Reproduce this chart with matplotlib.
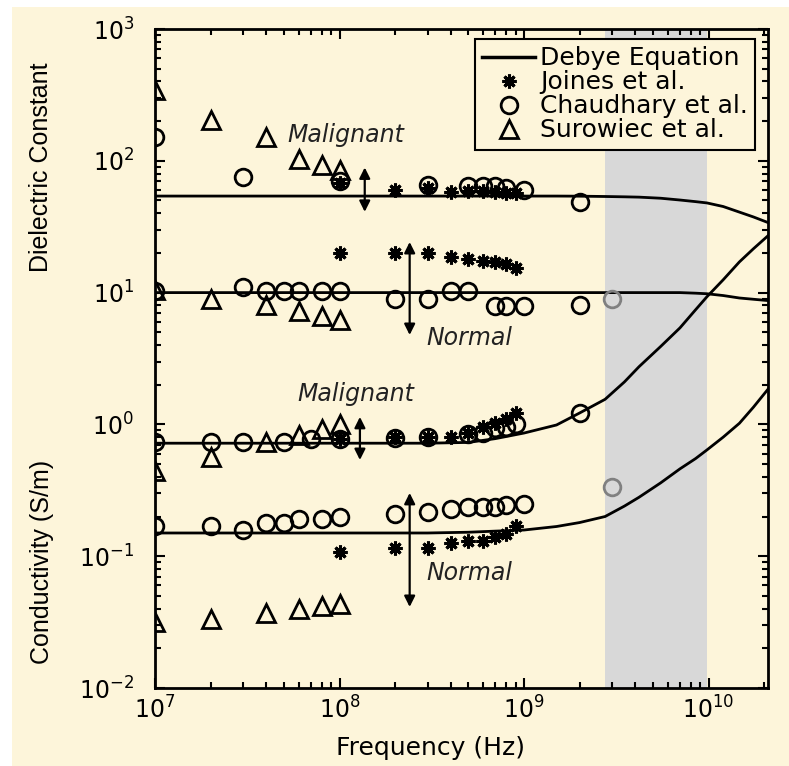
import matplotlib
matplotlib.use("Agg")
import matplotlib.pyplot as plt
from matplotlib.lines import Line2D
from matplotlib.patches import Rectangle
import numpy as np

# Debye equation curves
debye_f = [1e7, 1e8, 3e8, 5e8, 7e8, 1e9, 1.5e9, 2e9, 2.75e9, 3.5e9, 4.2e9, 5.5e9,
           7e9, 8.5e9, 9.8e9, 1.2e10, 1.47e10, 1.75e10, 2.1e10]
debye_eps_mal = [54, 54, 54, 54, 54, 54, 54, 53.9, 53.6, 53.3, 53, 52,
                 50.4, 49, 47.9, 45, 40.8, 37.5, 34]
debye_eps_nor = [10, 10, 10, 10, 10, 10, 10, 10, 10, 10, 10, 10,
                 10, 9.9, 9.8, 9.5, 9.1, 8.9, 8.7]
debye_sig_mal = [0.72, 0.72, 0.72, 0.73, 0.78, 0.86, 0.99, 1.22, 1.55, 2.1, 2.74, 3.9,
                 5.4, 7.4, 9.3, 12.5, 17.1, 21.5, 27]
debye_sig_nor = [0.15, 0.15, 0.15, 0.152, 0.155, 0.158, 0.168, 0.18, 0.2, 0.24, 0.28, 0.36,
                 0.46, 0.55, 0.64, 0.8, 1.02, 1.35, 1.85]

# Joines et al.
jo_f = [1e8, 2e8, 3e8, 4e8, 5e8, 6e8, 7e8, 8e8, 9e8]
jo_eps_mal = [68, 60, 62, 58, 59, 59, 58, 57, 57]
jo_eps_nor = [20, 20, 20, 18.5, 18, 17.5, 17, 16.5, 15.5]
jo_sig_mal = [0.78, 0.8, 0.8, 0.8, 0.86, 0.95, 1.02, 1.1, 1.22]
jo_sig_nor = [0.108, 0.116, 0.116, 0.125, 0.13, 0.13, 0.14, 0.147, 0.17]

# Chaudhary et al.
ch_eps_mal_f = [1e7, 3e7, 1e8, 3e8, 5e8, 6e8, 7e8, 8e8, 1e9, 2e9]
ch_eps_mal = [151, 75, 70, 65, 64, 64, 64, 62, 60, 49]
ch_eps_nor_f = [1e7, 3e7, 4e7, 5e7, 6e7, 8e7, 1e8, 2e8, 3e8, 4e8, 5e8, 7e8, 8e8, 1e9, 2e9, 3e9]
ch_eps_nor = [10.3, 11, 10.2, 10.2, 10.2, 10.2, 10.2, 8.9, 8.9, 10.2, 10.2, 7.9, 7.9, 7.9, 8.0, 8.9]
ch_sig_mal_f = [1e7, 2e7, 3e7, 5e7, 7e7, 1e8, 2e8, 3e8, 5e8, 6e8, 7e8, 8e8, 9e8, 2e9]
ch_sig_mal = [0.73, 0.73, 0.74, 0.73, 0.77, 0.77, 0.79, 0.8, 0.84, 0.86, 0.94, 0.95, 1.0, 1.23]
ch_sig_nor_f = [1e7, 2e7, 3e7, 4e7, 5e7, 6e7, 8e7, 1e8, 2e8, 3e8, 4e8, 5e8, 6e8, 7e8, 8e8, 1e9, 3e9]
ch_sig_nor = [0.17, 0.17, 0.158, 0.18, 0.178, 0.19, 0.19, 0.2, 0.21, 0.215, 0.23, 0.235, 0.235, 0.235, 0.245, 0.25, 0.337]

# Surowiec et al.
su_f = [1e7, 2e7, 4e7, 6e7, 8e7, 1e8]
su_eps_mal = [344, 204, 151, 103, 93, 85]
su_eps_nor = [10.5, 9.0, 8.0, 7.2, 6.6, 6.2]
su_sig_mal = [0.44, 0.57, 0.74, 0.83, 0.93, 1.0]
su_sig_nor = [0.0317, 0.0336, 0.037, 0.0397, 0.042, 0.0435]

band = (2.75e9, 9.8e9)
cream = "#FDF5DA"

fig = plt.figure(figsize=(7.89, 7.66), dpi=100, facecolor="white")
fig.patches.append(Rectangle((12 / 789, 0), 1, 1 - 7 / 766, transform=fig.transFigure,
                             facecolor=cream, edgecolor="none", zorder=-10))
ax = fig.add_axes([155 / 789, 1 - 688 / 766, 613 / 789, 659 / 766])
ax.set_facecolor(cream)
ax.set_xscale("log")
ax.set_yscale("log")
ax.set_xlim(1e7, 2.1e10)
ax.set_ylim(1e-2, 1e3)

ax.axvspan(band[0], band[1], color="#D8D8D8", lw=0, zorder=0)

for vals in [debye_eps_mal, debye_eps_nor, debye_sig_mal, debye_sig_nor]:
    ax.plot(debye_f, vals, color="k", lw=2, zorder=2)

jo = dict(marker=(8, 2, 0), ms=10, mew=2.2, color="k", ls="none", zorder=3)
ch = dict(marker="o", ms=12, mfc="none", mew=2, ls="none", zorder=3)
su = dict(marker="^", ms=13, mfc="none", mec="k", mew=2, ls="none", zorder=3)

for vals in [jo_eps_mal, jo_eps_nor, jo_sig_mal, jo_sig_nor]:
    ax.plot(jo_f, vals, **jo)

for f, vals in [(ch_eps_mal_f, ch_eps_mal), (ch_eps_nor_f, ch_eps_nor),
                (ch_sig_mal_f, ch_sig_mal), (ch_sig_nor_f, ch_sig_nor)]:
    f = np.array(f)
    vals = np.array(vals)
    inside = f > band[0]
    ax.plot(f[~inside], vals[~inside], mec="k", **ch)
    ax.plot(f[inside], vals[inside], mec="#808080", **ch)

for vals in [su_eps_mal, su_eps_nor, su_sig_mal, su_sig_nor]:
    ax.plot(su_f, vals, **su)

# double arrows
arrows = [(1.37e8, 89, 41), (2.4e8, 24.2, 4.77), (1.29e8, 1.14, 0.537), (2.4e8, 0.302, 0.0412)]
for x, top, bot in arrows:
    ax.annotate("", xy=(x, top), xytext=(x, bot),
                arrowprops=dict(arrowstyle="<|-|>", color="k", lw=1.6,
                                mutation_scale=16, shrinkA=0, shrinkB=0), zorder=4)

notes = [(5.19e7, 157, "Malignant"), (2.97e8, 4.53, "Normal"),
         (5.94e7, 1.70, "Malignant"), (2.97e8, 0.0746, "Normal")]
for x, y, s in notes:
    ax.text(x, y, s, fontsize=17, style="italic", color="#222222", ha="left", va="center")

ax.tick_params(which="both", direction="in", top=True, right=True, width=1.5, labelsize=17)
ax.tick_params(which="major", length=7)
ax.tick_params(which="minor", length=4)
ax.tick_params(axis="x", pad=6)
ax.tick_params(axis="y", pad=15)
for sp in ax.spines.values():
    sp.set_linewidth(2)

handles = [Line2D([], [], color="k", lw=2.5),
           Line2D([], [], **jo),
           Line2D([], [], mec="k", **ch),
           Line2D([], [], **su)]
labels = ["Debye Equation", "Joines et al.", "Chaudhary et al.", "Surowiec et al."]
leg = ax.legend(handles, labels, loc="upper right", bbox_to_anchor=(0.979, 0.985),
                borderaxespad=0, fancybox=False, edgecolor="k", facecolor=cream,
                framealpha=1, fontsize=18, labelspacing=0.0, handlelength=2.1,
                handletextpad=0.2, borderpad=0.3)
leg.get_frame().set_linewidth(1.5)
leg.set_zorder(10)

fig.text(431 / 789, 1 - 748 / 766, "Frequency (Hz)", fontsize=18, ha="center", va="center")
fig.text(41 / 789, 1 - 167 / 766, "Dielectric Constant", fontsize=18, rotation=90,
         ha="center", va="center", family="Liberation Sans")
fig.text(42 / 789, 1 - 562 / 766, "Conductivity (S/m)", fontsize=18, rotation=90,
         ha="center", va="center", family="Liberation Sans")

fig.savefig("out.png", dpi=100, facecolor="white")
